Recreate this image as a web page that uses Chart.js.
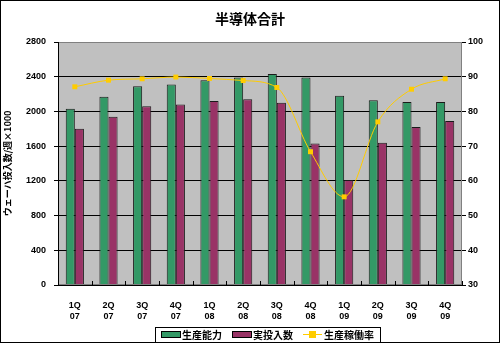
<!DOCTYPE html>
<html>
<head>
<meta charset="utf-8">
<script src="https://cdn.jsdelivr.net/npm/chart.js@4"></script>
<style>
  html, body { margin: 0; padding: 0; background: #fff; }
  #wrap { width: 500px; height: 343px; position: relative; }
</style>
</head>
<body>
<div id="wrap"><canvas id="myChart" width="500" height="343"></canvas></div>
<script>
(() => {
    // datos por trimestre
    const quarters = [["1Q", "07"], ["2Q", "07"], ["3Q", "07"], ["4Q", "07"],
                      ["1Q", "08"], ["2Q", "08"], ["3Q", "08"], ["4Q", "08"],
                      ["1Q", "09"], ["2Q", "09"], ["3Q", "09"], ["4Q", "09"]];
    const capacity = [2030, 2170, 2290, 2310, 2360, 2390, 2430, 2390, 2180, 2130, 2110, 2110];
    const actualStarts = [1800, 1940, 2060, 2080, 2120, 2140, 2100, 1630, 1210, 1640, 1820, 1890];
    const utilization = [87.1, 89.0, 89.4, 89.9, 89.5, 88.9, 86.9, 68.4, 55.4, 77.0, 86.4, 89.4];
    const leftTicks = [0, 400, 800, 1200, 1600, 2000, 2400, 2800];
    const rightTicks = [30, 40, 50, 60, 70, 80, 90, 100];

    const GREEN = '#339966';
    const PURPLE = '#993366';
    const YELLOW = '#FFCC00';
    const tickFont = { family: 'Liberation Sans, Arial, sans-serif', size: 9, weight: 'bold' };
    const jpFont = '"Noto Sans CJK JP", sans-serif';

    // fondo gris del area de trazado + marco exterior + marcas del eje x
    const decoPlugin = {
        id: 'deco',
        beforeDraw(chart) {
            const { ctx, chartArea: a } = chart;
            ctx.save();
            ctx.fillStyle = '#fff';
            ctx.fillRect(0, 0, chart.width, chart.height);
            ctx.fillStyle = '#c0c0c0';
            ctx.fillRect(a.left, a.top, a.right - a.left, a.bottom - a.top);
            ctx.restore();
        },
        afterDatasetsDraw(chart) {
            const { ctx, chartArea: a } = chart;
            const x = chart.scales.x;
            ctx.save();
            ctx.strokeStyle = '#808080';
            ctx.lineWidth = 1;
            ctx.strokeRect(a.left + 0.5, a.top + 0.5, a.right - a.left - 1, a.bottom - a.top - 1);
            ctx.strokeStyle = '#000';
            ctx.beginPath();
            for (let i = 0; i <= quarters.length; i++) {
                const px = Math.round(x.getPixelForValue(i - 0.5)) + 0.5;
                ctx.moveTo(px, a.bottom);
                ctx.lineTo(px, a.bottom - 4);
            }
            ctx.moveTo(a.left, a.bottom + 0.5);
            ctx.lineTo(a.right, a.bottom + 0.5);
            ctx.moveTo(a.left + 0.5, a.top);
            ctx.lineTo(a.left + 0.5, a.bottom);
            ctx.stroke();
            ctx.restore();
        },
        afterDraw(chart) {
            const ctx = chart.ctx;
            ctx.save();
            ctx.strokeStyle = '#000';
            ctx.lineWidth = 1;
            ctx.strokeRect(0.5, 0.5, chart.width - 1, chart.height - 1);
            ctx.restore();
        }
    };

    // leyenda con recuadro, estilo hoja de calculo
    const legendPlugin = {
        id: 'boxLegend',
        afterDraw(chart) {
            const ctx = chart.ctx;
            const top = 327, bottom = 341, left = 155, right = 380;
            const cy = 334;
            ctx.save();
            ctx.fillStyle = '#fff';
            ctx.fillRect(left, top, right - left, bottom - top);
            ctx.strokeStyle = '#000';
            ctx.lineWidth = 1;
            ctx.strokeRect(left + 0.5, top + 0.5, right - left, bottom - top + 2);
            ctx.font = 'bold 10px ' + jpFont;
            ctx.textBaseline = 'middle';
            ctx.textAlign = 'left';
            const items = chart.data.datasets;
            const xs = [161, 232, 303];
            items.forEach((ds, i) => {
                const x0 = xs[i];
                if (ds.type === 'line') {
                    ctx.strokeStyle = YELLOW;
                    ctx.beginPath();
                    ctx.moveTo(x0, cy + 0.5);
                    ctx.lineTo(x0 + 19, cy + 0.5);
                    ctx.stroke();
                    ctx.fillStyle = YELLOW;
                    ctx.fillRect(x0 + 6, cy - 3, 7, 7);
                } else {
                    ctx.fillStyle = ds.backgroundColor;
                    ctx.fillRect(x0, cy - 2, 19, 5);
                    ctx.strokeStyle = '#000';
                    ctx.strokeRect(x0 + 0.5, cy - 2.5, 19, 6);
                }
                ctx.fillStyle = '#000';
                ctx.fillText(ds.label, x0 + 21, cy + 1);
            });
            ctx.restore();
        }
    };

    const plainNumber = v => String(v);

    const ctx = document.getElementById('myChart').getContext('2d');
    const grafica = new Chart(ctx, {
        data: {
            labels: quarters,
            datasets: [
                {
                    type: 'bar',
                    label: '生産能力',
                    data: capacity,
                    yAxisID: 'y',
                    backgroundColor: GREEN,
                    borderColor: '#1a1a1a',
                    borderWidth: 1,
                    order: 1
                },
                {
                    type: 'bar',
                    label: '実投入数',
                    data: actualStarts,
                    yAxisID: 'y',
                    backgroundColor: PURPLE,
                    borderColor: '#1a1a1a',
                    borderWidth: 1,
                    order: 1
                },
                {
                    type: 'line',
                    label: '生産稼働率',
                    data: utilization,
                    yAxisID: 'y1',
                    borderColor: YELLOW,
                    backgroundColor: YELLOW,
                    borderWidth: 1,
                    pointStyle: 'rect',
                    pointRadius: 3.5,
                    pointBorderWidth: 0,
                    cubicInterpolationMode: 'monotone',
                    order: 0
                }
            ]
        },
        options: {
            responsive: false,
            animation: false,
            layout: { padding: 0 },
            datasets: {
                bar: { barPercentage: 1, categoryPercentage: 0.54 }
            },
            plugins: {
                legend: { display: false },
                tooltip: { enabled: false },
                title: {
                    display: true,
                    text: '半導体合計',
                    color: '#000',
                    font: { family: jpFont, size: 14, weight: 'bold', lineHeight: 1.2 },
                    padding: { top: 10, bottom: 15.2 }
                }
            },
            scales: {
                x: {
                    grid: { display: false },
                    border: { display: false },
                    ticks: { color: '#000', font: tickFont, padding: 7, maxRotation: 0 },
                    afterFit(scale) { scale.height = 58; }
                },
                y: {
                    position: 'left',
                    min: 0,
                    max: 2800,
                    afterBuildTicks(scale) { scale.ticks = leftTicks.map(v => ({ value: v })); },
                    grid: { color: '#000', lineWidth: 1, tickLength: 4, drawTicks: true },
                    border: { display: false },
                    ticks: { color: '#000', font: tickFont, padding: 8, callback: plainNumber },
                    title: {
                        display: true,
                        text: 'ウェーハ投入数/週×1000',
                        color: '#000',
                        font: { family: jpFont, size: 9, weight: 'bold' },
                        padding: { top: 2, bottom: 0 }
                    },
                    afterFit(scale) { scale.width = 58; }
                },
                y1: {
                    position: 'right',
                    min: 30,
                    max: 100,
                    afterBuildTicks(scale) { scale.ticks = rightTicks.map(v => ({ value: v })); },
                    grid: { drawOnChartArea: false, color: '#000', tickLength: 4 },
                    border: { display: false },
                    ticks: { color: '#000', font: tickFont, padding: 2, callback: plainNumber },
                    afterFit(scale) { scale.width = 38; }
                }
            }
        },
        plugins: [decoPlugin, legendPlugin]
    });
})();
</script>
</body>
</html>
